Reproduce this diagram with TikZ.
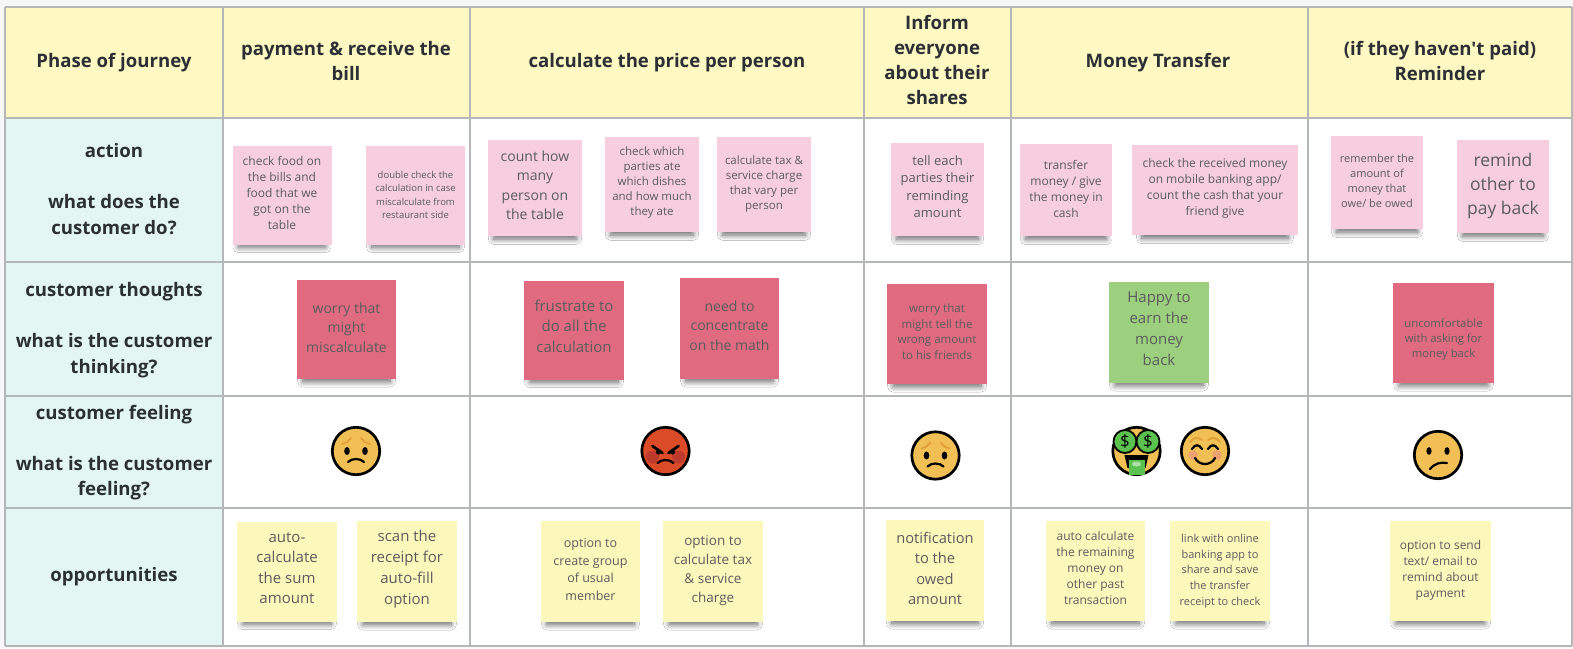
\documentclass[tikz,border=0pt]{standalone}
\usepackage{fontspec}
\setmainfont{Open Sans}
\usetikzlibrary{shadows.blur}

\definecolor{gridline}{HTML}{B4B7B7}
\definecolor{headfill}{HTML}{FFF8C2}
\definecolor{sidefill}{HTML}{E3F6F3}
\definecolor{inkdark}{HTML}{2A3033}
\definecolor{inknote}{HTML}{5C5C5C}
\definecolor{pinknote}{HTML}{F6CEDD}
\definecolor{rednote}{HTML}{E06B80}
\definecolor{greennote}{HTML}{9CD07F}
\definecolor{yellownote}{HTML}{FCF8BC}
\definecolor{faceyellow}{HTML}{F2BF55}
\definecolor{facered}{HTML}{DC4B28}
\definecolor{browgold}{HTML}{E0A034}
\definecolor{cheekred}{HTML}{BE3A2C}
\definecolor{cheekpink}{HTML}{EDA070}
\definecolor{billgreen}{HTML}{5CC24F}

\newcommand{\fs}[2]{\fontsize{#1}{#2}\selectfont}

\tikzset{
    head/.style={align=center,inner sep=0pt,text=inkdark,font=\fs{18.6}{25}\bfseries},
    side/.style={align=center,inner sep=0pt,text=inkdark,font=\fs{18.6}{25.5}\bfseries},
    note/.style={fill=#1,align=center,inner sep=0pt,text=inknote,minimum width=99pt,minimum height=99pt,
        blur shadow={shadow xshift=0pt,shadow yshift=-10pt,shadow scale=0.88,shadow blur radius=6pt,shadow blur steps=12,shadow opacity=60}},
    textup/.style={execute at end node={\rule[-#1pt]{0pt}{0pt}}},
    faceline/.style={line width=2.2pt,line cap=round},
    worried/.pic={
        \draw[line width=2.7pt,fill=faceyellow] (0,0) circle (23.7);
        \draw[browgold,line width=1.8pt,line cap=round] (-14,-7) .. controls (-10,-8) and (-7,-10) .. (-5,-13);
        \draw[browgold,line width=1.8pt,line cap=round] (14,-7) .. controls (10,-8) and (7,-10) .. (5,-13);
        \fill (-9,0) ellipse (2.8 and 4);
        \fill (9,0) ellipse (2.8 and 4);
        \draw[faceline] (-8,11) .. controls (-4,7) and (4,7) .. (8,11);
    },
    angry/.pic={
        \draw[line width=2.7pt,fill=facered] (0,0) circle (23.7);
        \fill[cheekred] (-13,6) circle (6.5);
        \fill[cheekred] (13,6) circle (6.5);
        \draw[line width=2.7pt,line cap=round] (-13,-5) -- (-3,2);
        \draw[line width=2.7pt,line cap=round] (13,-5) -- (3,2);
        \fill (-7,1) circle (2.6);
        \fill (7,1) circle (2.6);
        \draw[faceline] (-8,12) .. controls (-4,8) and (4,8) .. (8,12);
    },
    moneyface/.pic={
        \draw[line width=2.7pt,fill=faceyellow] (0,0) circle (23.7);
        \draw[line width=1.8pt,fill=billgreen] (-11.5,-9.5) circle (11.5);
        \draw[line width=1.8pt,fill=billgreen] (11.5,-9.5) circle (11.5);
        \node[inner sep=0pt,font=\fs{17}{17}] (dollarl) at (-11.5,-9.5) {\$};
        \node[inner sep=0pt,font=\fs{17}{17}] (dollarr) at (11.5,-9.5) {\$};
        \fill (-12,4) -- (12,4) -- (9,17) -- (-9,17) -- cycle;
        \fill[billgreen] (-8,9) rectangle (8,24);
        \fill[white,opacity=.5] (0,13) ellipse (4.5 and 2.5);
    },
    smileface/.pic={
        \draw[line width=2.7pt,fill=faceyellow] (0,0) circle (23.7);
        \fill[cheekpink] (-12,4) circle (4.8);
        \fill[cheekpink] (12,4) circle (4.8);
        \draw[browgold,line width=1.8pt,line cap=round] (-15,-9) .. controls (-11,-14) and (-7,-14) .. (-3,-11);
        \draw[browgold,line width=1.8pt,line cap=round] (15,-9) .. controls (11,-14) and (7,-14) .. (3,-11);
        \draw[faceline] (-13,-2) .. controls (-10,-7) and (-6,-7) .. (-3,-2);
        \draw[faceline] (13,-2) .. controls (10,-7) and (6,-7) .. (3,-2);
        \draw[faceline] (-10,7) .. controls (-6,15) and (6,15) .. (10,7);
    },
    puzzled/.pic={
        \draw[line width=2.7pt,fill=faceyellow] (0,0) circle (23.7);
        \fill (-9,-4) ellipse (2.6 and 3.8);
        \fill (9,-4) ellipse (2.6 and 3.8);
        \draw[faceline] (-8,14) .. controls (-3,8) and (3,7) .. (9,8);
    }
}

\begin{document}
\begin{tikzpicture}[x=1pt,y=-1pt]
    \useasboundingbox (0,0) rectangle (1573,648);
    \fill[black!3] (0,0) rectangle (1573,648);

    % table
    \fill[white] (5,7) rectangle (1572,646);
    \fill[headfill] (5,7) rectangle (1572,118);
    \fill[sidefill] (5,118) rectangle (223,646);
    \foreach \xline in {5,223,470,864,1011,1308,1572}
        \draw[gridline,line width=1.3pt] (\xline,7) -- (\xline,646);
    \foreach \yline in {7,118,262,396,508,646}
        \draw[gridline,line width=1.3pt] (5,\yline) -- (1572,\yline);

    % header row
    \node[head] (phase) at (114,63) {Phase of journey};
    \node[head] (payment) at (346,61) {payment \& receive the\\bill};
    \node[head] (price) at (667,63) {calculate the price per person};
    \node[head] (inform) at (937,60) {Inform\\everyone\\about their\\shares};
    \node[head] (transfer) at (1158,63) {Money Transfer};
    \node[head] (reminder) at (1440,61) {(if they haven\textquotesingle t paid)\\Reminder};

    % left column
    \node[side] (action) at (114,189) {action\\[25.5pt]what does the\\customer do?};
    \node[side] (thoughts) at (114,330) {customer thoughts\\[25.5pt]what is the customer\\thinking?};
    \node[side] (feeling) at (114,452.5) {customer feeling\\[25.5pt]what is the customer\\feeling?};
    \node[side] (opportunities) at (114,577) {opportunities};

    % action notes
    \node[note=pinknote,textup=5,font=\fs{12}{16}] (checkfood) at (282,195) {check food on\\the bills and\\food that we\\got on the\\table};
    \node[note=pinknote,font=\fs{9.5}{13.3}] (doublecheck) at (415.5,195) {double check the\\calculation in case\\miscalculate from\\restaurant side};
    \node[note=pinknote,textup=6,minimum width=94pt,minimum height=96pt,font=\fs{14}{19.5}] (count) at (535,188) {count how\\many\\person on\\the table};
    \node[note=pinknote,textup=6,minimum width=94pt,minimum height=95pt,font=\fs{11.5}{15}] (whichdish) at (652,184.5) {check which\\parties ate\\which dishes\\and how much\\they ate};
    \node[note=pinknote,minimum width=94pt,minimum height=95pt,font=\fs{11.5}{15}] (taxcharge) at (764,184.5) {calculate tax \&\\service charge\\that vary per\\person};
    \node[note=pinknote,textup=6,minimum width=93pt,minimum height=93pt,font=\fs{13}{17.5}] (tell) at (937.5,189.5) {tell each\\parties their\\reminding\\amount};
    \node[note=pinknote,textup=2,minimum width=92pt,minimum height=92pt,font=\fs{12}{16}] (sendmoney) at (1066,190) {transfer\\money / give\\the money in\\cash};
    \node[note=pinknote,textup=6,minimum width=166pt,minimum height=90pt,font=\fs{12}{16}] (received) at (1215,190) {check the received money\\on mobile banking app/\\count the cash that your\\friend give};
    \node[note=pinknote,textup=4,minimum width=92pt,minimum height=93pt,font=\fs{11}{15}] (remember) at (1377,182.5) {remember the\\amount of\\money that\\owe/ be owed};
    \node[note=pinknote,textup=6.2,minimum width=92pt,minimum height=93pt,font=\fs{17.5}{24}] (remind) at (1503,186.5) {remind\\other to\\pay back};

    % thought notes
    \node[note=rednote,textup=4,font=\fs{14}{19.5}] (worrycalc) at (346.5,329.5) {worry that\\might\\miscalculate};
    \node[note=rednote,textup=8,minimum width=100pt,font=\fs{15}{20.5}] (frustrate) at (574,330) {frustrate to\\do all the\\calculation};
    \node[note=rednote,textup=6,minimum height=101pt,font=\fs{14}{19.5}] (math) at (729.5,328.5) {need to\\concentrate\\on the math};
    \node[note=rednote,textup=5,minimum width=100pt,minimum height=100pt,font=\fs{11.5}{15.7}] (worrytell) at (937,334) {worry that\\might tell the\\wrong amount\\to his friends};
    \node[note=greennote,textup=7,minimum width=100pt,minimum height=101pt,font=\fs{15}{21}] (happy) at (1159,332.5) {Happy to\\earn the\\money\\back};
    \node[note=rednote,minimum width=101pt,minimum height=100pt,font=\fs{11.3}{15}] (asking) at (1443.5,333) {\rule{0pt}{21pt}uncomfortable\\with asking for\\money back};

    % feelings
    \pic at (356,451) {worried};
    \pic at (665.5,451) {angry};
    \pic at (935.5,455.5) {worried};
    \pic at (1136.5,451) {moneyface};
    \pic at (1205,451) {smileface};
    \pic at (1438,455) {puzzled};

    % opportunity notes
    \node[note=yellownote,textup=7,minimum width=100pt,minimum height=100pt,font=\fs{15}{20.5}] (autosum) at (287,571.5) {auto-\\calculate\\the sum\\amount};
    \node[note=yellownote,textup=7.5,minimum width=100pt,minimum height=101pt,font=\fs{15}{21}] (scan) at (407,571.5) {scan the\\receipt for\\auto-fill\\option};
    \node[note=yellownote,textup=4,minimum height=101pt,font=\fs{12.5}{17.5}] (usualgroup) at (590.5,571.5) {option to\\create group\\of usual\\member};
    \node[note=yellownote,textup=5,minimum width=100pt,minimum height=101pt,font=\fs{13.5}{19}] (calctax) at (713,571.5) {option to\\calculate tax\\\& service\\charge};
    \node[note=yellownote,textup=4,minimum width=98pt,minimum height=101pt,font=\fs{14.7}{20.5}] (notify) at (935,570.5) {notification\\to the\\owed\\amount};
    \node[note=yellownote,textup=6,minimum height=100pt,font=\fs{12}{16}] (remaining) at (1095.5,571) {auto calculate\\the remaining\\money on\\other past\\transaction};
    \node[note=yellownote,minimum width=100pt,minimum height=100pt,font=\fs{11}{15.7}] (banklink) at (1220,571) {link with online\\banking app to\\share and save\\the transfer\\receipt to check};
    \node[note=yellownote,textup=5,minimum width=101pt,minimum height=100pt,font=\fs{12}{16}] (sendtext) at (1440.5,571) {option to send\\text/ email to\\remind about\\payment};
\end{tikzpicture}
\end{document}
